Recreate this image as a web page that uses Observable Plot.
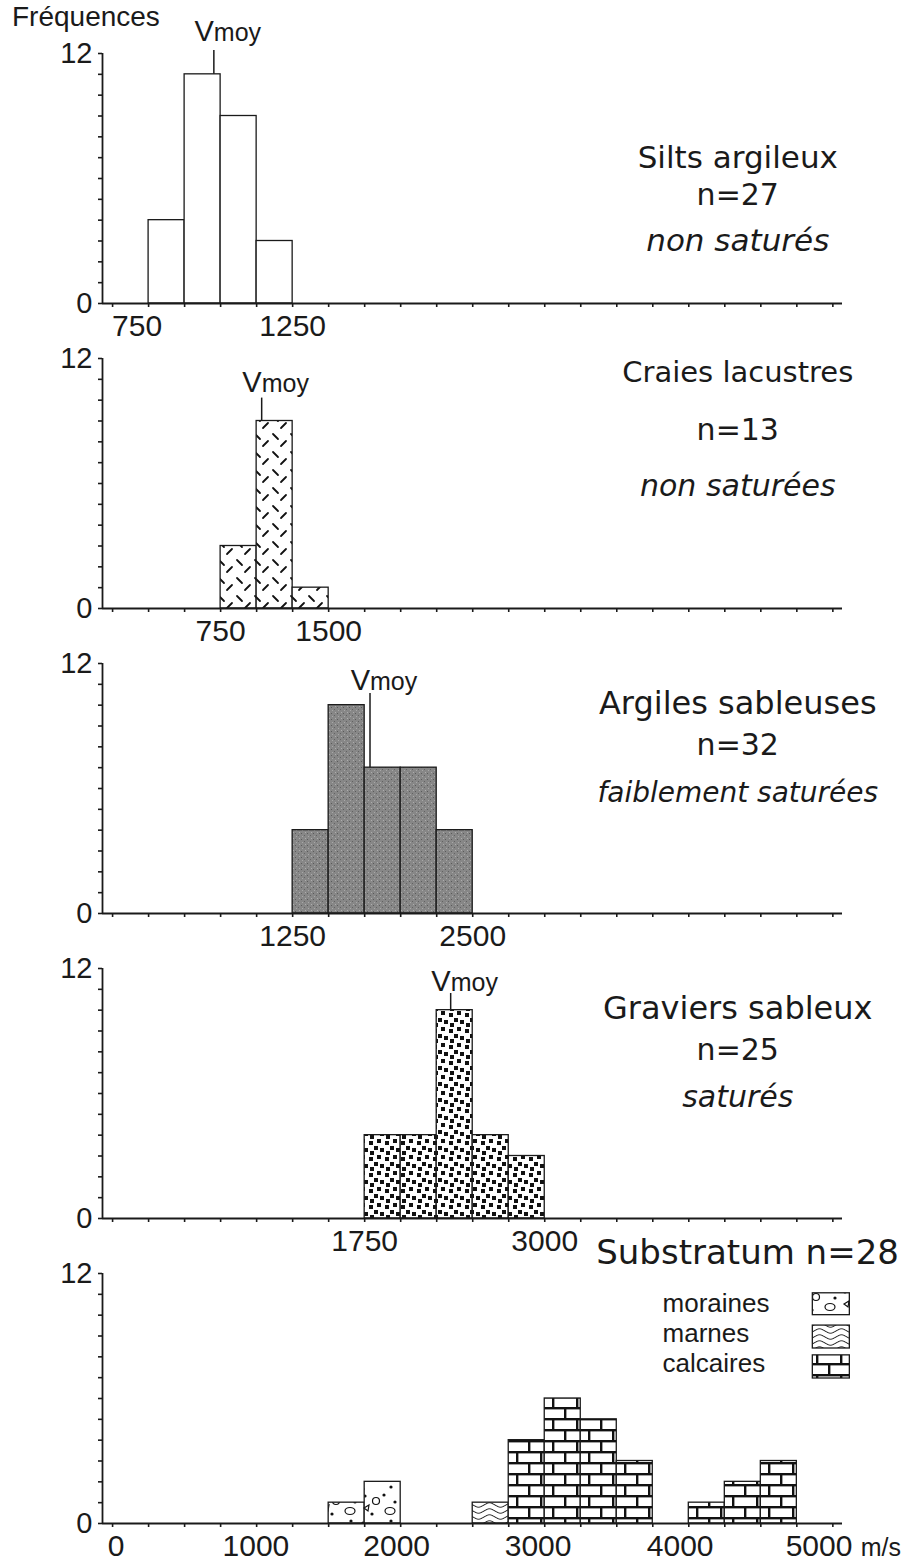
<!DOCTYPE html>
<html>
<head>
<meta charset="utf-8">
<script src="https://cdn.jsdelivr.net/npm/d3@7"></script>
<script src="https://cdn.jsdelivr.net/npm/@observablehq/plot@0.6"></script>
<style>
  html, body { margin: 0; padding: 0; background: white; }
  #wrap { position: relative; width: 905px; height: 1564px; background: white; overflow: hidden; }
  #wrap svg.panel { position: absolute; left: 0; }
  #ylabel { position: absolute; left: 12px; top: 3px; font: 28px/28px "Liberation Sans", Arial, sans-serif; color: #1a1a1a; }
</style>
</head>
<body>
<svg width="0" height="0" style="position:absolute">
  <defs>
    <pattern id="pat-craie" patternUnits="userSpaceOnUse" width="18" height="18">
      <rect width="18" height="18" fill="white"/>
      <path d="M3,3 L8,8 M11,15 L16,10" stroke="#111" stroke-width="1.8" stroke-linecap="round"/>
    </pattern>
    <pattern id="pat-argile" patternUnits="userSpaceOnUse" width="6" height="6">
      <rect width="6" height="6" fill="#878787"/>
      <rect x="1" y="1" width="1" height="1" fill="#5a5a5a"/>
      <rect x="4" y="3" width="1" height="1" fill="#626262"/>
      <rect x="2" y="4" width="1" height="1" fill="#a8a8a8"/>
      <rect x="5" y="0" width="1" height="1" fill="#adadad"/>
    </pattern>
    <pattern id="pat-gravier" patternUnits="userSpaceOnUse" width="16" height="16">
      <rect width="16" height="16" fill="white"/>
      <rect x="1" y="2" width="4" height="4" fill="#111"/>
      <rect x="9" y="0" width="4" height="4" fill="#111"/>
      <rect x="6" y="7" width="4" height="4" fill="#111"/>
      <rect x="12" y="9" width="4" height="4" fill="#111"/>
      <rect x="2" y="12" width="4" height="4" fill="#111"/>
    </pattern>
    <pattern id="pat-calcaire" patternUnits="userSpaceOnUse" width="24" height="22">
      <rect width="24" height="22" fill="white"/>
      <rect x="0" y="0" width="24" height="2.4" fill="#111"/>
      <rect x="0" y="11" width="24" height="2.4" fill="#111"/>
      <rect x="0" y="0" width="2.4" height="11" fill="#111"/>
      <rect x="12" y="11" width="2.4" height="11" fill="#111"/>
    </pattern>
    <pattern id="pat-marne" patternUnits="userSpaceOnUse" width="22" height="6">
      <rect width="22" height="6" fill="white"/>
      <path d="M0,3 C5.5,0 5.5,0 11,3 S16.5,6 22,3" stroke="#111" stroke-width="1" fill="none"/>
    </pattern>
    <pattern id="pat-moraine" patternUnits="userSpaceOnUse" width="40" height="34">
      <rect width="40" height="34" fill="white"/>
      <circle cx="5" cy="4" r="1.6" fill="#111"/>
      <circle cx="24" cy="3" r="1.6" fill="#111"/>
      <circle cx="35" cy="10" r="1.6" fill="#111"/>
      <circle cx="12" cy="22" r="1.6" fill="#111"/>
      <circle cx="31" cy="29" r="1.6" fill="#111"/>
      <circle cx="3" cy="31" r="1.6" fill="#111"/>
      <circle cx="16" cy="9" r="3.5" fill="none" stroke="#111" stroke-width="1.2"/>
      <ellipse cx="30" cy="19" rx="5" ry="3.5" fill="none" stroke="#111" stroke-width="1.2"/>
      <path d="M4,16 L9,13 L8,19 Z" fill="none" stroke="#111" stroke-width="1.2"/>
    </pattern>
  </defs>
</svg>
<div id="wrap">
  <div id="ylabel">Fréquences</div>
</div>
<script>
// ---------- data ----------
const binWidth = 250;
const siltsBins = [250, 500, 750, 1000];
const siltsCounts = [4, 11, 9, 3];
const craiesBins = [750, 1000, 1250];
const craiesCounts = [3, 9, 1];
const argilesBins = [1250, 1500, 1750, 2000, 2250];
const argilesCounts = [4, 10, 7, 7, 4];
const graviersBins = [1750, 2000, 2250, 2500, 2750];
const graviersCounts = [4, 4, 10, 4, 3];
const substratumBins = [1500, 1750, 2500, 2750, 3000, 3250, 3500, 4000, 4250, 4500];
const substratumCounts = [1, 2, 1, 4, 6, 5, 3, 1, 2, 3];
const substratumTypes = ["moraines", "moraines", "marnes", "calcaires", "calcaires", "calcaires", "calcaires", "calcaires", "calcaires", "calcaires"];

const vmoyValues = [703, 1035, 1787, 2347];
const vmoyTops = [12.15, 10.1, 10.56, 10.8];
const vmoyLabelY = [12.6, 10.37, 10.72, 10.92];

// tick label positions as drawn in the figure
const panelTickValues = [[170, 1250], [750, 1500], [1250, 2500], [1750, 3000], [25, 995, 1972, 2954, 3940, 4904]];
const panelTickLabels = [["750", "1250"], ["750", "1500"], ["1250", "2500"], ["1750", "3000"], ["0", "1000", "2000", "3000", "4000", "5000"]];

const panelTitles = [
  ["Silts argileux", "n=27", "non saturés"],
  ["Craies lacustres", "n=13", "non saturées"],
  ["Argiles sableuses", "n=32", "faiblement saturées"],
  ["Graviers sableux", "n=25", "saturés"]
];
const panelTitleY = [[7.0, 5.18, 3.02], [11.3, 8.55, 5.85], [10.08, 8.07, 5.8], [10.08, 8.07, 5.8]];
const panelTitleSize = [[31, 30, 31], [29, 30, 30], [32, 30, 28], [32, 30, 30]];
const titleX = 4340;

const substratumTitle = "Substratum n=28";
const legendLabels = ["moraines", "marnes", "calcaires"];
const legendY = [10.56, 9.12, 7.68];
const legendSwatchY1 = [10.0, 8.4, 6.96];
const legendSwatchY2 = [11.05, 9.5, 8.07];

const yTicks = d3.range(0, 13);
const xTicks = d3.range(0, 5001, 250);
const unitLabel = "m/s";

// ---------- styles ----------
const ink = "#1a1a1a";
const X_DOMAIN = [-70, 5067];
const patternFor = {
  craies: "url(#pat-craie)", argiles: "url(#pat-argile)", graviers: "url(#pat-gravier)",
  moraines: "url(#pat-moraine)", marnes: "url(#pat-marne)", calcaires: "url(#pat-calcaire)"
};
const titleFont = "DejaVu Sans, Verdana, sans-serif";
const baseFont = "Liberation Sans, Arial, Helvetica, sans-serif";

function binsToRows(bins, counts, types) {
  return bins.map((b, i) => ({x1: b, x2: b + binWidth, count: counts[i], type: types ? types[i] : null}));
}

const panels = [
  {rows: binsToRows(siltsBins, siltsCounts), fill: "white"},
  {rows: binsToRows(craiesBins, craiesCounts), fill: patternFor.craies},
  {rows: binsToRows(argilesBins, argilesCounts), fill: patternFor.argiles},
  {rows: binsToRows(graviersBins, graviersCounts), fill: patternFor.graviers},
  {rows: binsToRows(substratumBins, substratumCounts, substratumTypes), fill: null}
];

const wrap = document.getElementById("wrap");

panels.forEach((p, k) => {
  const marks = [];
  // bars
  if (p.fill) {
    marks.push(Plot.rect(p.rows, {x1: "x1", x2: "x2", y1: 0, y2: "count", fill: p.fill, stroke: ink, strokeWidth: 1.3}));
  } else {
    for (const t of ["moraines", "marnes", "calcaires"]) {
      marks.push(Plot.rect(p.rows.filter(r => r.type === t), {x1: "x1", x2: "x2", y1: 0, y2: "count", fill: patternFor[t], stroke: ink, strokeWidth: 1.3}));
    }
  }
  // axes
  marks.push(Plot.axisX({ticks: xTicks, tickSize: 4, tickFormat: () => "", anchor: "bottom", stroke: ink, strokeWidth: 1.6}));
  marks.push(Plot.axisY({ticks: yTicks, tickSize: 4, tickPadding: 6, anchor: "left", stroke: ink, strokeWidth: 1.6,
    tickFormat: d => (d === 0 || d === 12) ? String(d) : "", fill: ink}));
  marks.push(Plot.ruleY([0], {x1: X_DOMAIN[0], x2: X_DOMAIN[1], stroke: ink, strokeWidth: 1.8}));
  marks.push(Plot.ruleX([X_DOMAIN[0]], {y1: 0, y2: 12, stroke: ink, strokeWidth: 1.8}));
  // x tick labels
  const tl = panelTickValues[k].map((v, i) => ({x: v, label: panelTickLabels[k][i]}));
  marks.push(Plot.text(tl, {x: "x", y: 0, text: "label", dy: 23, fontSize: 30, fill: ink}));
  // Vmoy
  if (k < 4) {
    const v = vmoyValues[k];
    const row = p.rows.find(r => v >= r.x1 && v < r.x2);
    const vm = [{v, bottom: row ? row.count : 0, top: vmoyTops[k], ly: vmoyLabelY[k]}];
    marks.push(Plot.ruleX(vm, {x: "v", y1: "bottom", y2: "top", stroke: ink, strokeWidth: 1.5}));
    marks.push(Plot.text(vm, {x: "v", y: "ly", text: () => "V", textAnchor: "end", lineAnchor: "bottom", dx: 0, fontSize: 29, fill: ink}));
    marks.push(Plot.text(vm, {x: "v", y: "ly", text: () => "moy", textAnchor: "start", lineAnchor: "bottom", dx: 0, fontSize: 25, fill: ink}));
    // titles
    const tt = panelTitles[k].map((s, i) => ({s, y: panelTitleY[k][i], size: panelTitleSize[k][i], italic: i === 2}));
    tt.forEach(d => {
      marks.push(Plot.text([d], {x: () => titleX, y: "y", text: "s", fontSize: d.size, fontFamily: titleFont,
        fontStyle: d.italic ? "italic" : "normal", fill: ink}));
    });
  } else {
    marks.push(Plot.text([unitLabel], {x: () => 5193, y: 0, text: d => d, dy: 24, textAnchor: "start", fontSize: 25, fill: ink}));
    marks.push(Plot.text([substratumTitle], {x: () => 4408, y: () => 12.96, text: d => d, fontSize: 34, fontFamily: titleFont, fill: ink}));
    const lg = legendLabels.map((s, i) => ({s, y: legendY[i], y1: legendSwatchY1[i], y2: legendSwatchY2[i]}));
    marks.push(Plot.text(lg, {x: () => 3818, y: "y", text: "s", textAnchor: "start", fontSize: 26, fill: ink}));
    lg.forEach(d => {
      marks.push(Plot.rect([d], {x1: () => 4861, x2: () => 5118, y1: "y1", y2: "y2", fill: patternFor[d.s], stroke: ink, strokeWidth: 1.3}));
    });
  }

  const svg = Plot.plot({
    width: 905,
    height: 345,
    marginLeft: 102,
    marginRight: 63,
    marginTop: 53,
    marginBottom: 42,
    x: {domain: X_DOMAIN},
    y: {domain: [0, 12]},
    style: {background: "transparent", overflow: "visible", fontFamily: baseFont, fontSize: "29px", color: ink},
    marks
  });
  svg.classList.add("panel");
  svg.style.top = (305 * k) + "px";
  svg.style.position = "absolute";
  wrap.appendChild(svg);
});
</script>
</body>
</html>
